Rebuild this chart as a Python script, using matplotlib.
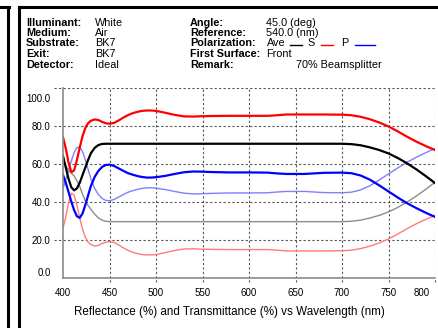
import matplotlib
matplotlib.use('Agg')
import matplotlib.pyplot as plt
from matplotlib.lines import Line2D
from matplotlib.transforms import ScaledTranslation

plt.rcParams['font.family'] = ['Liberation Sans', 'DejaVu Sans']

# wavelength (nm)
wl = [400, 403, 406, 409, 412, 415, 418, 421, 424, 427, 430,
      434, 438, 442, 446,
      450, 455, 460, 465, 470, 475, 480, 485, 490, 495, 500,
      510, 520, 530, 540, 550, 560,
      580, 600, 620, 630, 640, 660, 680, 700,
      710, 720, 730, 740, 750, 760, 770, 780, 790, 800]

# S polarisation, reflectance / transmittance
s_r = [74, 68, 60.5, 55.5, 56.5, 62, 68.5, 74.5, 78.8, 81.3, 82.6,
       83.3, 83, 82, 81.3,
       81, 81.5, 82.8, 84.3, 85.6, 86.6, 87.3, 87.8, 88, 88, 87.8,
       86.8, 85.7, 84.9, 84.8, 85, 85.1,
       85.2, 85.2, 85.2, 85.5, 85.9, 85.9, 85.9, 85.8,
       85.5, 84.7, 83.4, 81.7, 79.6, 77, 74.2, 71.6, 69.3, 67.2]
s_t = [26, 32, 39.5, 44.5, 43.5, 38, 31.5, 25.5, 21.2, 18.7, 17.4,
       16.7, 17, 18, 18.7,
       19, 18.5, 17.2, 15.7, 14.4, 13.4, 12.7, 12.2, 12, 12, 12.2,
       13.2, 14.3, 15.1, 15.2, 15, 14.9,
       14.8, 14.8, 14.8, 14.5, 14.1, 14.1, 14.1, 14.2,
       14.5, 15.3, 16.6, 18.3, 20.4, 23, 25.8, 28.4, 30.7, 32.8]

# average
ave_r = [64, 58, 52, 47.5, 46, 47, 50, 54, 58, 62, 65.5,
         68.3, 69.8, 70.4, 70.5,
         70.5, 70.5, 70.5, 70.5, 70.5, 70.5, 70.5, 70.5, 70.5, 70.5, 70.5,
         70.5, 70.5, 70.5, 70.5, 70.5, 70.5,
         70.5, 70.5, 70.5, 70.5, 70.5, 70.5, 70.5, 70.5,
         70.3, 69.7, 68.6, 67.2, 65.4, 63, 60.2, 57, 53.5, 49.8]
ave_t = [62, 59, 56.5, 55, 53.5, 51, 48, 44, 40.5, 38, 36,
         33.5, 31.5, 30.3, 29.7,
         29.5, 29.5, 29.5, 29.5, 29.5, 29.5, 29.5, 29.5, 29.5, 29.5, 29.5,
         29.5, 29.5, 29.5, 29.5, 29.5, 29.5,
         29.5, 29.5, 29.5, 29.5, 29.5, 29.5, 29.5, 29.5,
         29.7, 30.3, 31.4, 32.8, 34.6, 37, 39.8, 43, 46.5, 50.2]

# P polarisation
p_r = [54, 50, 45, 40, 35.5, 32.3, 31.5, 33.8, 38.3, 43.3, 48.3,
       53, 56.2, 58.3, 59.3,
       59.5, 58.8, 57.5, 56.2, 55, 54.2, 53.5, 53, 52.7, 52.7, 52.9,
       53.6, 54.6, 55.5, 55.9, 55.8, 55.6,
       55.4, 55.4, 55.3, 54.9, 54.6, 54.6, 55.2, 55.3,
       55, 53.8, 51.6, 48.6, 45.4, 42.2, 39.2, 36.6, 34.2, 32]
p_t = [47, 51.5, 56.5, 61.5, 66, 68.5, 68.7, 66.5, 62, 57, 52,
       47, 43.8, 41.7, 40.7,
       40.5, 41.2, 42.5, 43.8, 45, 45.8, 46.5, 47, 47.3, 47.3, 47.1,
       46.4, 45.4, 44.5, 44.1, 44.2, 44.4,
       44.6, 44.6, 44.7, 45.1, 45.4, 45.4, 44.8, 44.7,
       45, 46.2, 48.4, 51.4, 54.6, 57.8, 60.8, 63.4, 65.8, 68]

xticks = [400, 450, 500, 550, 600, 650, 700, 750, 800]
yticks = [0, 20, 40, 60, 80, 100]
ylabels = ['0.0', '20.0', '40.0', '60.0', '80.0', '100.0']

head_left = [('Illuminant:', 'White'), ('Medium:', 'Air'), ('Substrate:', 'BK7'),
             ('Exit:', 'BK7'), ('Detector:', 'Ideal')]
head_right = [('Angle:', '45.0 (deg)'), ('Reference:', '540.0 (nm)'),
              ('Polarization:', 'Ave'), ('First Surface:', 'Front'), ('Remark:', '')]
remark = '70% Beamsplitter'
xlabel = 'Reflectance (%) and Transmittance (%) vs Wavelength (nm)'

W, H = 438, 328
fig = plt.figure(figsize=(W / 100, H / 100), dpi=100)
fig.patch.set_facecolor('white')

def fx(x):
    return x / W

def fy(y):
    return 1 - y / H

# frame pieces
fig.add_artist(Line2D([0, fx(9)], [fy(6.5), fy(6.5)], color='black', lw=2.2))
fig.add_artist(Line2D([fx(8), fx(8)], [fy(6.5), 0], color='black', lw=2.2))
fig.add_artist(Line2D([fx(19), 1], [fy(6.5), fy(6.5)], color='black', lw=2.2))
fig.add_artist(Line2D([fx(19), fx(19)], [fy(6.5), 0], color='black', lw=2.2))

# header
rows = [22.5, 33.0, 43.5, 54, 64.5]
fs = 7.8
for (lab, val), y in zip(head_left, rows):
    fig.text(fx(26), fy(y), lab, fontsize=fs, fontweight='bold', va='center')
    fig.text(fx(95), fy(y), val, fontsize=fs, va='center')
for (lab, val), y in zip(head_right, rows):
    fig.text(fx(190), fy(y), lab, fontsize=fs, fontweight='bold', va='center')
    fig.text(fx(266.5), fy(y), val, fontsize=fs, va='center')
fig.text(fx(296.5), fy(rows[4]), remark, fontsize=fs, va='center')
ypol = fy(45.0)
fig.add_artist(Line2D([fx(289.5), fx(301.5)], [ypol, ypol], color='black', lw=1.0))
fig.text(fx(307), fy(rows[2]), 'S', fontsize=fs, va='center')
fig.add_artist(Line2D([fx(320.5), fx(333)], [ypol, ypol], color='red', lw=1.0))
fig.text(fx(341), fy(rows[2]), 'P', fontsize=fs, va='center')
fig.add_artist(Line2D([fx(355), fx(375)], [ypol, ypol], color='blue', lw=1.0))

# plot
ax = fig.add_axes([fx(63), fy(277.7), fx(435) - fx(63), fy(87.7) - fy(277.7)])
ax.set_xlim(400, 800)
ax.set_ylim(0, 100)

dot = dict(color='#555555', lw=0.8, linestyle=(0, (2, 2)))
for x in xticks[1:]:
    ax.axvline(x, **dot)
    ax.plot([x, x], [-0.025, 0], transform=ax.get_xaxis_transform(), clip_on=False, **dot)
for y in yticks[1:]:
    ax.axhline(y, **dot)
    ax.plot([-0.025, 0], [y, y], transform=ax.get_yaxis_transform(), clip_on=False, **dot)

ax.plot(wl, s_t, color='#ff7b7b', lw=1.0)
ax.plot(wl, ave_t, color='#8c8c8c', lw=1.0)
ax.plot(wl, p_t, color='#7f7fff', lw=1.0)
ax.plot(wl, s_r, color='#ff0000', lw=1.6)
ax.plot(wl, ave_r, color='#000000', lw=1.6)
ax.plot(wl, p_r, color='#0000ff', lw=1.6)

for side in ['top', 'right']:
    ax.spines[side].set_visible(False)
for side in ['left', 'bottom']:
    ax.spines[side].set_color('#8a8a8a')
    ax.spines[side].set_linewidth(1.2)

ax.set_xticks(xticks)
ax.set_xticklabels([str(v) for v in xticks], fontsize=7)
ax.set_yticks(yticks)
ax.set_yticklabels(ylabels, fontsize=7)
ax.tick_params(axis='both', length=0)
ax.tick_params(axis='x', pad=7.5)
ax.tick_params(axis='y', pad=9)

# shift edge labels like the original
xl = ax.get_xticklabels()
xl[-1].set_horizontalalignment('right')
xl[-1].set_transform(xl[-1].get_transform() + ScaledTranslation(-5 / 100, 0, fig.dpi_scale_trans))
yl = ax.get_yticklabels()
yl[0].set_transform(yl[0].get_transform() + ScaledTranslation(0, 6 / 100, fig.dpi_scale_trans))
yl[-1].set_transform(yl[-1].get_transform() + ScaledTranslation(0, -10 / 100, fig.dpi_scale_trans))

fig.text(fx(229.5), fy(311.5), xlabel, fontsize=8.4, ha='center', va='center')

fig.savefig('out.png', dpi=100)
